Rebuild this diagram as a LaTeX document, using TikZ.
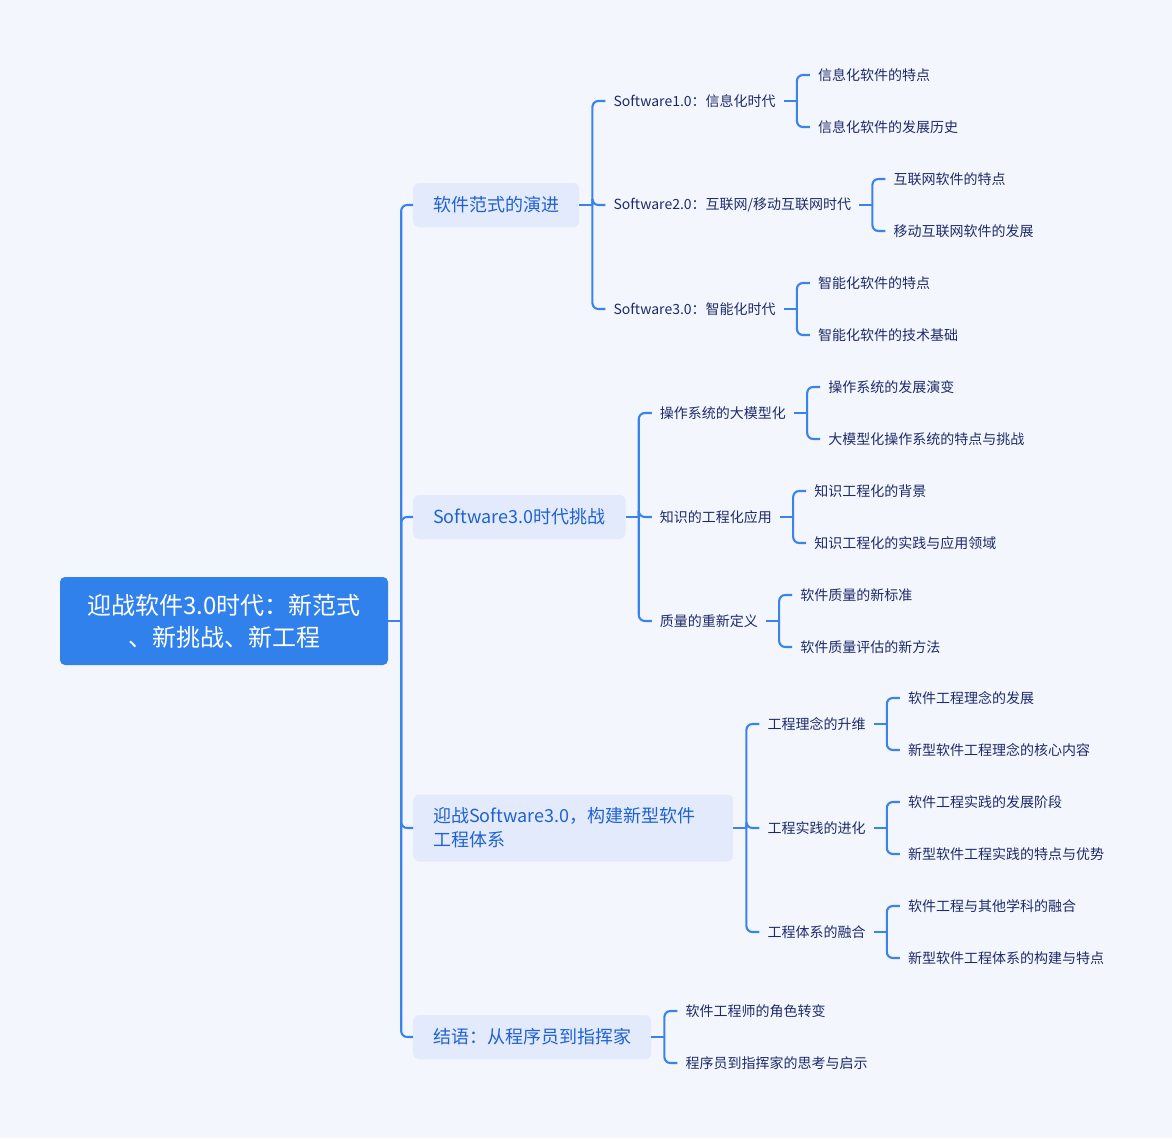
\documentclass[tikz,border=0pt]{standalone}
\usepackage{fontspec}
\setmainfont{Noto Sans CJK SC}
\usepackage{tikz}
\usetikzlibrary{positioning}
\definecolor{bgcol}{HTML}{F4F6FD}
\definecolor{maincol}{HTML}{3081EC}
\definecolor{topiccol}{HTML}{E2EAFC}
\definecolor{topictext}{HTML}{2062D2}
\definecolor{linecol}{HTML}{3A82EC}
\definecolor{subtext}{HTML}{1E2B6A}
\tikzstyle{main} = [rectangle, fill=maincol, text=white, rounded corners=5pt,
    text width=300pt, align=center, inner xsep=14pt, minimum height=88pt,
    font=\fontsize{24pt}{32pt}\selectfont]
\tikzstyle{topic} = [rectangle, fill=topiccol, text=topictext, rounded corners=6pt,
    inner xsep=20pt, minimum height=44pt, font=\fontsize{18pt}{24pt}\selectfont]
\tikzstyle{sub} = [text=subtext, inner xsep=8pt, font=\fontsize{14pt}{18pt}\selectfont]
\tikzstyle{leaf} = [sub]
\tikzstyle{link} = [draw=linecol, line width=2.1pt]

\begin{document}
\begin{tikzpicture}[x=1pt, y=-1pt, node distance=26pt]
\fill[bgcol] (0,0) rectangle (1172,1138);

\node (root) [main] at (224,621) {迎战软件3.0时代：新范式\\、新挑战、新工程};

\node (evo) [topic, anchor=west] at (413,205) {软件范式的演进};
\node (chal) [topic, anchor=west] at (413,517) {Software3.0时代挑战};
\node (eng) [topic, anchor=west, text width=280pt, align=left, minimum height=67pt] at (413,828) {迎战Software3.0，构建新型软件\\工程体系};
\node (concl) [topic, anchor=west] at (413,1037) {结语：从程序员到指挥家};

% software paradigm
\node (sw1) [sub, right=of evo, yshift=104pt] {Software1.0：信息化时代};
\node (sw2) [sub, right=of evo] {Software2.0：互联网/移动互联网时代};
\node (sw3) [sub, right=of evo, yshift=-104pt] {Software3.0：智能化时代};
\node (sw1a) [leaf, right=of sw1, yshift=26pt] {信息化软件的特点};
\node (sw1b) [leaf, right=of sw1, yshift=-26pt] {信息化软件的发展历史};
\node (sw2a) [leaf, right=of sw2, yshift=26pt] {互联网软件的特点};
\node (sw2b) [leaf, right=of sw2, yshift=-26pt] {移动互联网软件的发展};
\node (sw3a) [leaf, right=of sw3, yshift=26pt] {智能化软件的特点};
\node (sw3b) [leaf, right=of sw3, yshift=-26pt] {智能化软件的技术基础};

% challenges
\node (os) [sub, right=of chal, yshift=104pt] {操作系统的大模型化};
\node (know) [sub, right=of chal] {知识的工程化应用};
\node (qual) [sub, right=of chal, yshift=-104pt] {质量的重新定义};
\node (osa) [leaf, right=of os, yshift=26pt] {操作系统的发展演变};
\node (osb) [leaf, right=of os, yshift=-26pt] {大模型化操作系统的特点与挑战};
\node (knowa) [leaf, right=of know, yshift=26pt] {知识工程化的背景};
\node (knowb) [leaf, right=of know, yshift=-26pt] {知识工程化的实践与应用领域};
\node (quala) [leaf, right=of qual, yshift=26pt] {软件质量的新标准};
\node (qualb) [leaf, right=of qual, yshift=-26pt] {软件质量评估的新方法};

% new engineering
\node (idea) [sub, right=of eng, yshift=104pt] {工程理念的升维};
\node (prac) [sub, right=of eng] {工程实践的进化};
\node (fuse) [sub, right=of eng, yshift=-104pt] {工程体系的融合};
\node (ideaa) [leaf, right=of idea, yshift=26pt] {软件工程理念的发展};
\node (ideab) [leaf, right=of idea, yshift=-26pt] {新型软件工程理念的核心内容};
\node (praca) [leaf, right=of prac, yshift=26pt] {软件工程实践的发展阶段};
\node (pracb) [leaf, right=of prac, yshift=-26pt] {新型软件工程实践的特点与优势};
\node (fusea) [leaf, right=of fuse, yshift=26pt] {软件工程与其他学科的融合};
\node (fuseb) [leaf, right=of fuse, yshift=-26pt] {新型软件工程体系的构建与特点};

% conclusion
\node (concla) [leaf, right=of concl, yshift=26pt] {软件工程师的角色转变};
\node (conclb) [leaf, right=of concl, yshift=-26pt] {程序员到指挥家的思考与启示};

\foreach \p/\kids in {root/{evo,chal,eng,concl}, evo/{sw1,sw2,sw3},
    sw1/{sw1a,sw1b}, sw2/{sw2a,sw2b}, sw3/{sw3a,sw3b},
    chal/{os,know,qual}, os/{osa,osb}, know/{knowa,knowb}, qual/{quala,qualb},
    eng/{idea,prac,fuse}, idea/{ideaa,ideab}, prac/{praca,pracb}, fuse/{fusea,fuseb},
    concl/{concla,conclb}} {
  \coordinate (\p-b) at ([xshift=13pt]\p.east);
  \draw [link] (\p.east) -- (\p-b);
  \foreach \k in \kids
    \draw [link, rounded corners=6pt] (\p-b) |- (\k.west);
}
\end{tikzpicture}
\end{document}
